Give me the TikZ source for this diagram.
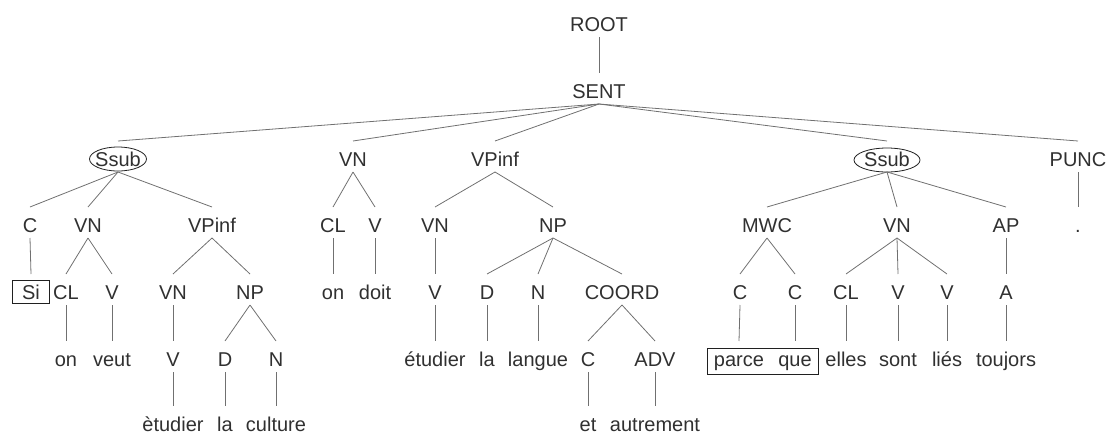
\documentclass[tikz,border=0pt]{standalone}
\usepackage{fontspec}
\setmainfont{Liberation Sans}
\definecolor{txt}{HTML}{303030}
\definecolor{lin}{HTML}{707070}
\definecolor{ink}{HTML}{202020}
\newcommand\tedge[2]{\draw[link] ([yshift=-6pt]#1.base) -- ([yshift=25pt]#2.base);}
\begin{document}
\begin{tikzpicture}[x=1pt,y=-1pt,
  lab/.style={inner sep=0pt, anchor=base, text=txt, font=\fontsize{20}{24}\selectfont},
  link/.style={draw=lin, line width=0.8pt},
  ring/.style={draw=ink, line width=0.8pt}]
\useasboundingbox (0,0) rectangle (1110,434);
% row 0
\node[lab] (root) at (599,31) {ROOT};
\node[lab] (sent) at (599,98) {SENT};
% row 1
\node[lab] (ssubA) at (118,166) {Ssub};
\node[lab] (vnA) at (353,166) {VN};
\node[lab] (vpinfA) at (495,166) {VPinf};
\node[lab] (ssubB) at (887,166) {Ssub};
\node[lab] (punc) at (1078,166) {PUNC};
% row 2
\node[lab] (cA) at (30,232) {C};
\node[lab] (vnB) at (88,232) {VN};
\node[lab] (vpinfB) at (212,232) {VPinf};
\node[lab] (clA) at (333,232) {CL};
\node[lab] (vA) at (375,232) {V};
\node[lab] (vnC) at (435,232) {VN};
\node[lab] (npA) at (553,232) {NP};
\node[lab] (mwc) at (767,232) {MWC};
\node[lab] (vnD) at (897,232) {VN};
\node[lab] (ap) at (1006,232) {AP};
\node[lab] (dot) at (1078,232) {.};
% row 3
\node[lab, draw=ink, line width=0.8pt, inner xsep=10pt, inner ysep=4.5pt] (si) at (31,299) {Si};
\node[lab] (clB) at (66,299) {CL};
\node[lab] (vB) at (112,299) {V};
\node[lab] (vnE) at (173,299) {VN};
\node[lab] (npB) at (250,299) {NP};
\node[lab] (on1) at (333,299) {on};
\node[lab] (doit) at (375,299) {doit};
\node[lab] (vC) at (435,299) {V};
\node[lab] (dA) at (487,299) {D};
\node[lab] (nA) at (538,299) {N};
\node[lab] (coord) at (622,299) {COORD};
\node[lab] (cB) at (740,299) {C};
\node[lab] (cC) at (795,299) {C};
\node[lab] (clC) at (846,299) {CL};
\node[lab] (vD) at (898,299) {V};
\node[lab] (vE) at (947,299) {V};
\node[lab] (a) at (1006,299) {A};
% row 4
\node[lab] (on2) at (66,366) {on};
\node[lab] (veut) at (112,366) {veut};
\node[lab] (vF) at (173,366) {V};
\node[lab] (dB) at (225,366) {D};
\node[lab] (nB) at (276,366) {N};
\node[lab] (etudA) at (435,366) {étudier};
\node[lab] (laA) at (487,366) {la};
\node[lab] (langue) at (538,366) {langue};
\node[lab] (cD) at (588,366) {C};
\node[lab] (adv) at (655,366) {ADV};
\node[lab] (parce) at (739,366) {parce};
\node[lab] (que) at (795,366) {que};
\node[lab] (elles) at (846,366) {elles};
\node[lab] (sont) at (898,366) {sont};
\node[lab] (lies) at (947,366) {liés};
\node[lab] (toujors) at (1006,366) {toujors};
% row 5
\node[lab] (etudB) at (173,431) {ètudier};
\node[lab] (laB) at (225,431) {la};
\node[lab] (culture) at (276,431) {culture};
\node[lab] (et) at (588,431) {et};
\node[lab] (autrement) at (655,431) {autrement};
% ellipses and box
\draw[ring] ([yshift=7pt]ssubA.base) ellipse [x radius=28.5, y radius=12];
\draw[ring] ([yshift=6pt]ssubB.base) ellipse [x radius=33, y radius=12];
\draw[ring] ([xshift=-6pt,yshift=18pt]parce.base west) rectangle ([xshift=7pt,yshift=-8pt]que.base east);
% edges
\tedge{root}{sent}
\foreach \c in {ssubA,vnA,vpinfA,ssubB,punc} {\tedge{sent}{\c}}
\foreach \c in {cA,vnB,vpinfB} {\tedge{ssubA}{\c}}
\foreach \c in {clA,vA} {\tedge{vnA}{\c}}
\foreach \c in {vnC,npA} {\tedge{vpinfA}{\c}}
\foreach \c in {mwc,vnD,ap} {\tedge{ssubB}{\c}}
\tedge{punc}{dot}
\tedge{cA}{si}
\foreach \c in {clB,vB} {\tedge{vnB}{\c}}
\foreach \c in {vnE,npB} {\tedge{vpinfB}{\c}}
\tedge{clA}{on1}
\tedge{vA}{doit}
\tedge{vnC}{vC}
\foreach \c in {dA,nA,coord} {\tedge{npA}{\c}}
\foreach \c in {cB,cC} {\tedge{mwc}{\c}}
\foreach \c in {clC,vD,vE} {\tedge{vnD}{\c}}
\tedge{ap}{a}
\tedge{clB}{on2}
\tedge{vB}{veut}
\tedge{vnE}{vF}
\foreach \c in {dB,nB} {\tedge{npB}{\c}}
\tedge{vC}{etudA}
\tedge{dA}{laA}
\tedge{nA}{langue}
\foreach \c in {cD,adv} {\tedge{coord}{\c}}
\tedge{cB}{parce}
\tedge{cC}{que}
\tedge{clC}{elles}
\tedge{vD}{sont}
\tedge{vE}{lies}
\tedge{a}{toujors}
\tedge{vF}{etudB}
\tedge{dB}{laB}
\tedge{nB}{culture}
\tedge{cD}{et}
\tedge{adv}{autrement}
\end{tikzpicture}
\end{document}
